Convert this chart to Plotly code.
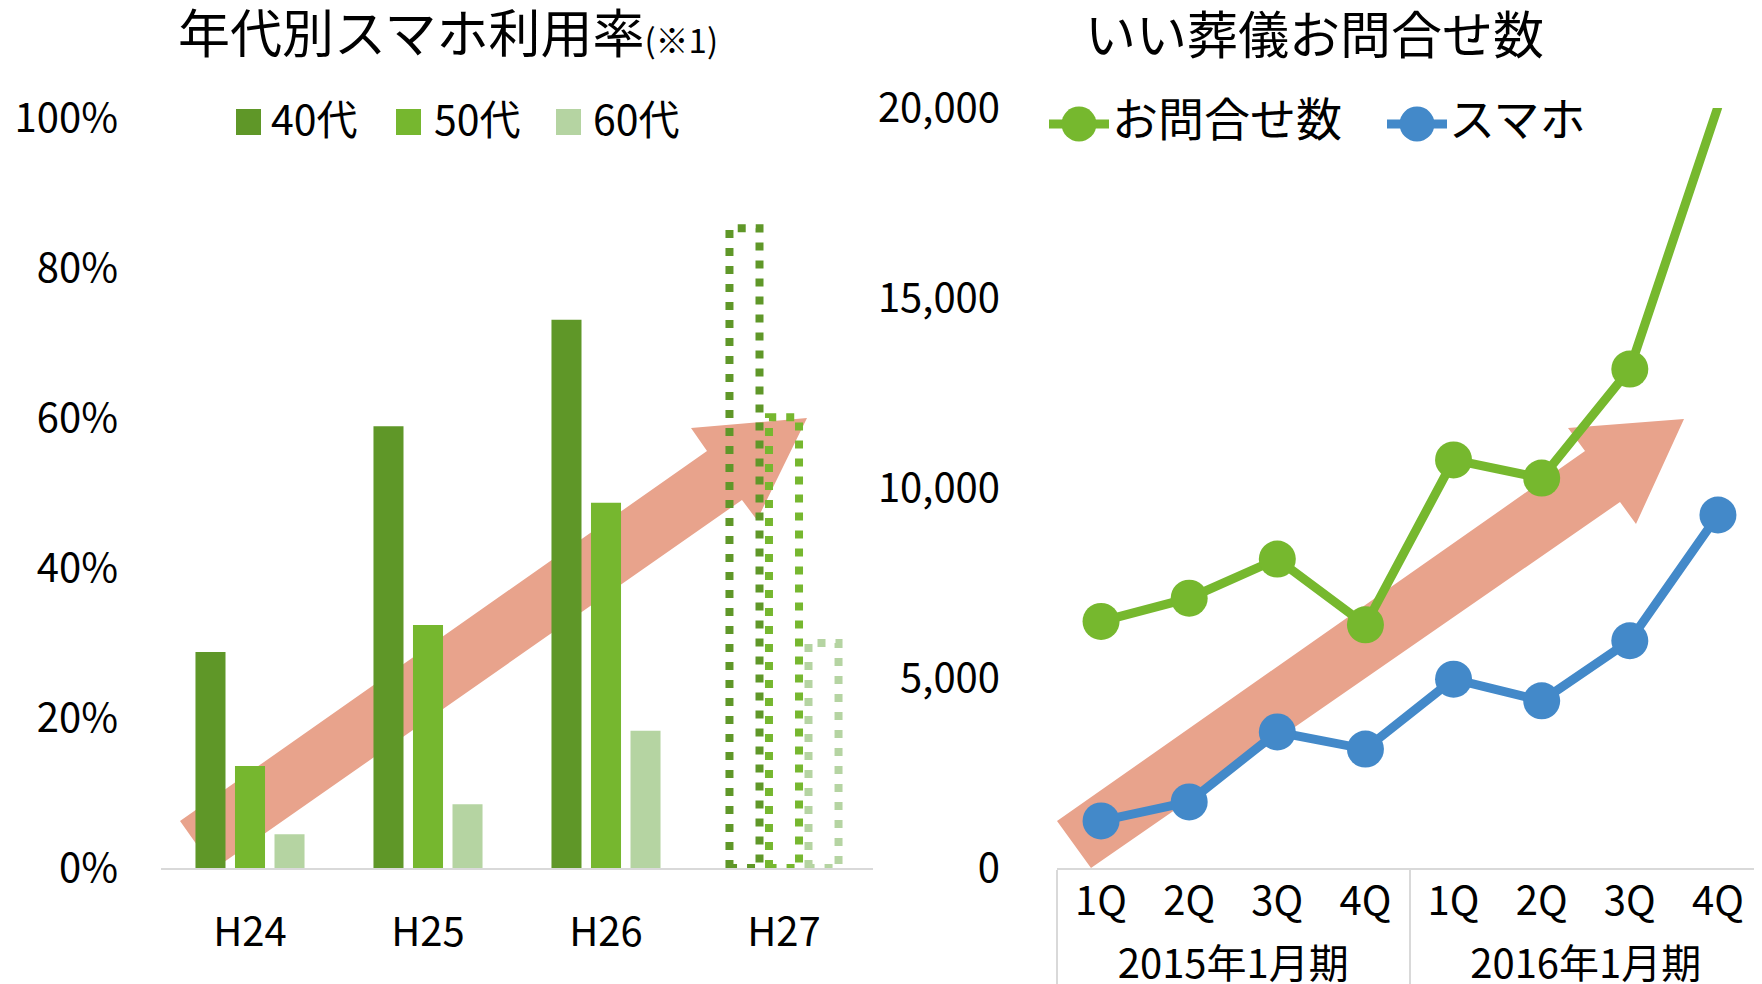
import plotly.graph_objects as go

# ---------------- data ----------------
years = ["H24", "H25", "H26", "H27"]
rate_40s = [28.8, 58.9, 73.1, 85.3]   # H27 is an estimate (dotted)
rate_50s = [13.6, 32.4, 48.7, 60.1]
rate_60s = [4.5, 8.5, 18.3, 30.0]
age_labels = ["40代", "50代", "60代"]
pct_ticks = [0, 20, 40, 60, 80, 100]

periods = ["2015年1月期", "2016年1月期"]
quarters = ["1Q", "2Q", "3Q", "4Q"]
inquiries = [6490, 7100, 8130, 6400, 10740, 10260, 13130, 20030]
smartphone = [1240, 1740, 3580, 3130, 4970, 4400, 5980, 9290]
count_ticks = [0, 5000, 10000, 15000, 20000]

# ---------------- style ----------------
W, H = 1762, 984          # figure size
OFF = 8                   # page body margin: positions below are page pixels
FONT = "Noto Sans CJK JP"
C40, C50, C60 = "#5f9728", "#76b72f", "#b5d4a2"
CG, CB = "#76b82e", "#4389c9"
ARROW = "#e8a38c"
GRID = "#d9d9d9"
BARGAP, BARGROUPGAP = 0.334, 0.24


def fx(x):
    return (x - OFF) / W


def fy(y):
    return 1 - (y - OFF) / H


def px(x, y):
    return fx(x), fy(y)


def path_from_px(points):
    segs = []
    for i, (x, y) in enumerate(points):
        a, b = px(x, y)
        segs.append(("M" if i == 0 else "L") + f"{a:.5f},{b:.5f}")
    return " ".join(segs) + " Z"


fig = go.Figure()

# ---- left: grouped bars (solid years) ----
series = [rate_40s, rate_50s, rate_60s]
colors = [C40, C50, C60]
n_solid = len(years) - 1
xpos = list(range(len(years)))
for name, vals, col in zip(age_labels, series, colors):
    fig.add_trace(go.Bar(
        x=xpos[:n_solid], y=vals[:n_solid], name=name,
        marker=dict(color=col, line=dict(width=0)),
        xaxis="x", yaxis="y", showlegend=False,
    ))

# ---- left: dotted outline bars for last year (estimate) ----
slot = (1 - BARGAP) / len(series)
bw = slot * (1 - BARGROUPGAP)
for k, (name, vals, col) in enumerate(zip(age_labels, series, colors)):
    c = xpos[-1] + (k - (len(series) - 1) / 2) * slot
    v = vals[-1]
    fig.add_trace(go.Scatter(
        x=[c - bw / 2, c - bw / 2, c + bw / 2, c + bw / 2, c - bw / 2],
        y=[0, v, v, 0, 0],
        mode="lines", line=dict(color=col, width=8, dash="8px,10px"),
        xaxis="x", yaxis="y", showlegend=False, hoverinfo="skip",
        cliponaxis=False,
    ))

# ---- right: lines ----
xcat = [[p for p in periods for _ in quarters], [q for _ in periods for q in quarters]]
fig.add_trace(go.Scatter(
    x=xcat, y=inquiries, name="お問合せ数", mode="lines+markers",
    line=dict(color=CG, width=9), marker=dict(color=CG, size=37),
    xaxis="x2", yaxis="y2", showlegend=False, cliponaxis=False,
))
fig.add_trace(go.Scatter(
    x=xcat, y=smartphone, name="スマホ", mode="lines+markers",
    line=dict(color=CB, width=9), marker=dict(color=CB, size=37),
    xaxis="x2", yaxis="y2", showlegend=False, cliponaxis=False,
))

# ---- decorative trend arrows ----
left_arrow = [(180, 821), (707, 451), (691, 428), (807, 418), (757, 520), (742, 500), (214, 869)]
right_arrow = [(1057, 821), (1585, 451), (1568, 428), (1684, 419), (1636, 524), (1620, 502), (1091, 868)]
shapes = []
for pts in (left_arrow, right_arrow):
    shapes.append(dict(type="path", xref="paper", yref="paper", path=path_from_px(pts),
                       fillcolor=ARROW, line=dict(width=0), layer="below"))

annotations = []

# ---- manual legend (left) ----
leg_left = [(236, 272), (396, 435), (556, 594)]
for (sx, tx), name, col in zip(leg_left, age_labels, colors):
    x0, y0 = px(sx, 135)
    x1, y1 = px(sx + 25, 109)
    shapes.append(dict(type="rect", xref="paper", yref="paper", x0=x0, x1=x1, y0=y0, y1=y1,
                       fillcolor=col, line=dict(width=0)))
    ax_, ay_ = px(tx - 3, 117)
    annotations.append(dict(text=name, x=ax_, y=ay_, xref="paper", yref="paper",
                            xanchor="left", yanchor="middle", showarrow=False,
                            font=dict(family=FONT, size=41, color="#000")))

# ---- manual legend (right) ----
leg_right = [(1079, 1113, "お問合せ数", CG), (1417, 1450, "スマホ", CB)]
for cx, tx, name, col in leg_right:
    lx0, ly = px(cx - 30, 124)
    lx1, _ = px(cx + 30, 124)
    shapes.append(dict(type="line", xref="paper", yref="paper", x0=lx0, x1=lx1, y0=ly, y1=ly,
                       line=dict(color=col, width=9)))
    cx0, cy0 = px(cx - 17.5, 141.5)
    cx1, cy1 = px(cx + 17.5, 106.5)
    shapes.append(dict(type="circle", xref="paper", yref="paper", x0=cx0, x1=cx1, y0=cy0, y1=cy1,
                       fillcolor=col, line=dict(width=0)))
    ax_, ay_ = px(tx - 3, 116)
    annotations.append(dict(text=name, x=ax_, y=ay_, xref="paper", yref="paper",
                            xanchor="left", yanchor="middle", showarrow=False,
                            font=dict(family=FONT, size=46, color="#000")))

# ---- titles ----
tx, ty = px(176, 31)
annotations.append(dict(text="年代別スマホ利用率<span style='font-size:33px'>(※1)</span>",
                        x=tx, y=ty, xref="paper", yref="paper", xanchor="left", yanchor="middle",
                        showarrow=False, font=dict(family=FONT, size=52, color="#000")))
tx, ty = px(1083, 32)
annotations.append(dict(text="いい葬儀お問合せ数", x=tx, y=ty, xref="paper", yref="paper",
                        xanchor="left", yanchor="middle", showarrow=False,
                        font=dict(family=FONT, size=51, color="#000")))

tick_font = dict(family=FONT, size=40, color="#000")

fig.update_layout(
    width=W, height=H, autosize=False,
    margin=dict(l=0, r=0, t=0, b=0, pad=0, autoexpand=False),
    paper_bgcolor="white", plot_bgcolor="rgba(0,0,0,0)",
    font=dict(family=FONT, color="#000"),
    barmode="group", bargap=BARGAP, bargroupgap=BARGROUPGAP,
    showlegend=False,
    shapes=shapes, annotations=annotations,
    xaxis=dict(domain=[fx(161), fx(873)], anchor="y", range=[-0.5, 3.5],
               tickvals=xpos, ticktext=years, tickfont=tick_font,
               showline=True, linecolor=GRID, linewidth=2, ticks="", automargin=False,
               showgrid=False, zeroline=False, ticklabelstandoff=28, fixedrange=True),
    yaxis=dict(domain=[fy(868), fy(118)], anchor="x", range=[0, 100],
               tickvals=pct_ticks, ticktext=[f"{v}%" for v in pct_ticks], tickfont=tick_font,
               showline=False, showgrid=False, zeroline=False, ticks="", automargin=False,
               ticklabelstandoff=42, fixedrange=True),
    xaxis2=dict(domain=[fx(1057), fx(1762)], anchor="y2", type="multicategory",
                range=[-0.5, len(periods) * len(quarters) - 0.5], autorange=False,
                tickfont=tick_font, showline=True, linecolor=GRID, linewidth=2,
                showdividers=True, dividercolor=GRID, dividerwidth=2, ticks="",
                ticklabelstandoff=-3,
                automargin=False, showgrid=False, zeroline=False, fixedrange=True),
    yaxis2=dict(domain=[fy(868), fy(108)], anchor="x2", range=[0, 20000],
                tickvals=count_ticks, tickformat=",d", tickfont=tick_font,
                showline=False, showgrid=False, zeroline=False, ticks="", automargin=False,
                ticklabelstandoff=56, fixedrange=True),
)

fig.write_html("out.html")
